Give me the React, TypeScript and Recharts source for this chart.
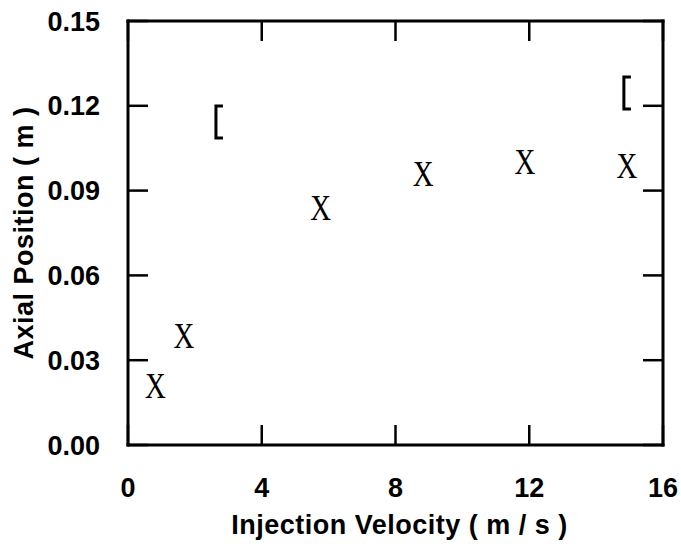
import { ScatterChart, Scatter, XAxis, YAxis } from 'recharts';

// values
const velocity = [0.82, 1.67, 5.76, 8.83, 11.87, 14.92];
const position = [0.021, 0.0386, 0.0837, 0.0959, 0.1002, 0.0987];
const bracketVelocity = [2.72, 14.92];
const bracketPosition = [0.1143, 0.1245];
const xTicks = [0, 4, 8, 12, 16];
const yTicks = [0, 0.03, 0.06, 0.09, 0.12, 0.15];

const points = velocity.map((v, i) => ({ v, p: position[i] }));
const brackets = bracketVelocity.map((v, i) => ({ v, p: bracketPosition[i] }));

const SANS = '"Liberation Sans", Arial, Helvetica, sans-serif';
const axisLine = { stroke: '#000', strokeWidth: 3, strokeLinecap: 'square' as const };
const tickLine = { stroke: '#000', strokeWidth: 2.5 };
const tickFont = { fill: '#000', fontSize: 27, fontWeight: 700, fontFamily: SANS };

function XMark({ cx, cy }: any) {
  if (cx == null || cy == null) return null;
  return (
    <g transform={`translate(${cx},${cy}) scale(0.8,1)`}>
      <text x={0} y={12} textAnchor="middle" fontFamily='"Liberation Serif", "Times New Roman", serif' fontSize={36} fill="#000">
        X
      </text>
    </g>
  );
}

function Bracket({ cx, cy }: any) {
  if (cx == null || cy == null) return null;
  return (
    <path
      d={`M${cx + 4},${cy - 16} H${cx - 3} V${cy + 16} H${cx + 4}`}
      fill="none"
      stroke="#000"
      strokeWidth={3}
    />
  );
}

function XTitle({ viewBox }: any) {
  const vb = viewBox || { x: 128, y: 445, width: 535, height: 99 };
  return (
    <text x={vb.x + vb.width / 2 + 4} y={vb.y + 89} textAnchor="middle" fill="#000"
      fontFamily={SANS} fontWeight={700} fontSize={27} letterSpacing={0.5}>
      Injection Velocity ( m / s )
    </text>
  );
}

function YTitle({ viewBox }: any) {
  const vb = viewBox || { x: 0, y: 21, width: 128, height: 424 };
  const x = vb.x + 33;
  const y = vb.y + vb.height / 2;
  return (
    <text x={x} y={y} transform={`rotate(-90, ${x}, ${y})`} textAnchor="middle" fill="#000"
      fontFamily={SANS} fontWeight={700} fontSize={27} letterSpacing={0.5}>
      Axial Position ( m )
    </text>
  );
}

export default function App() {
  return (
    <div style={{ position: 'absolute', left: 0, top: 0, background: '#fff' }}>
      <ScatterChart width={681} height={544} margin={{ top: 20, right: 17, left: 0, bottom: 0 }}>
        <XAxis
          type="number"
          dataKey="v"
          domain={[0, 16]}
          ticks={xTicks}
          interval={0}
          allowDataOverflow
          height={99}
          tickSize={-20}
          tickMargin={53}
          axisLine={axisLine}
          tickLine={tickLine}
          tick={tickFont}
          label={<XTitle />}
        />
        <XAxis
          xAxisId="top"
          orientation="top"
          type="number"
          dataKey="v"
          domain={[0, 16]}
          ticks={xTicks}
          interval={0}
          allowDataOverflow
          height={1}
          tickSize={-20}
          axisLine={axisLine}
          tickLine={tickLine}
          tickFormatter={() => ''}
        />
        <YAxis
          type="number"
          dataKey="p"
          domain={[0, 0.15]}
          ticks={yTicks}
          interval={0}
          allowDataOverflow
          width={128}
          tickSize={-20}
          tickMargin={48}
          axisLine={axisLine}
          tickLine={tickLine}
          tick={tickFont}
          tickFormatter={(v: number) => v.toFixed(2)}
          label={<YTitle />}
        />
        <YAxis
          yAxisId="right"
          orientation="right"
          type="number"
          dataKey="p"
          domain={[0, 0.15]}
          ticks={yTicks}
          interval={0}
          allowDataOverflow
          width={1}
          tickSize={-20}
          axisLine={axisLine}
          tickLine={tickLine}
          tickFormatter={() => ''}
        />
        <Scatter data={points} shape={<XMark />} isAnimationActive={false} />
        <Scatter data={brackets} shape={<Bracket />} isAnimationActive={false} />
      </ScatterChart>
    </div>
  );
}
